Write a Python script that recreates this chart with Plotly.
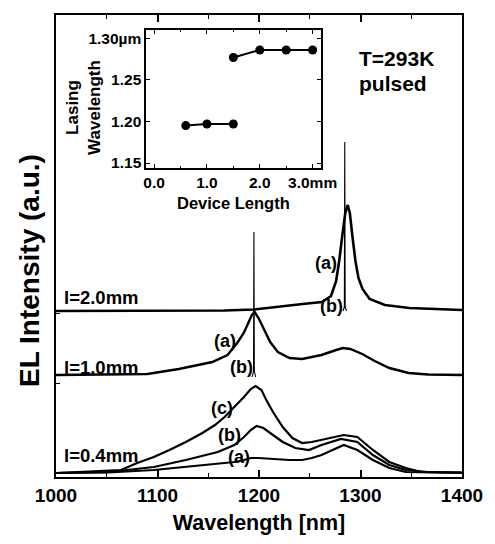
import plotly.graph_objects as go

# ---------------- data ----------------
# Electroluminescence spectra (a.u.), stacked per device length
wl_20a = [1000, 1090, 1166, 1195, 1223, 1243, 1262, 1271, 1276, 1279, 1282, 1285,
          1287.4, 1289.5, 1292, 1295, 1298, 1302, 1309, 1324, 1348, 1367, 1400]
el_20a = [0, 0, 0.005, 0.015, 0.05, 0.07, 0.09, 0.15, 0.30, 0.50, 0.75, 0.98,
          1.06, 0.98, 0.75, 0.50, 0.33, 0.22, 0.12, 0.06, 0.03, 0.02, 0.01]
wl_20b = [1282.8, 1284.1, 1284.5, 1284.9, 1286.2]
el_20b = [0, 0.04, 1.69, 0.04, 0]

wl_10a = [1000, 1042, 1090, 1121, 1154, 1169, 1178.5, 1185, 1190, 1193, 1195.7,
          1199.5, 1204.3, 1211, 1218.6, 1230, 1242.5, 1261.6, 1276, 1282.6, 1290,
          1301.7, 1314, 1328.4, 1347.5, 1366.6, 1400]
el_10a = [0, 0.005, 0.01, 0.06, 0.13, 0.20, 0.32, 0.42, 0.53, 0.60, 0.63,
          0.57, 0.47, 0.33, 0.23, 0.17, 0.16, 0.20, 0.25, 0.27, 0.26,
          0.21, 0.14, 0.07, 0.02, 0.005, 0]
wl_10b = [1193.3, 1194.6, 1195, 1195.4, 1196.7]
el_10b = [-0.02, 0.04, 1.43, 0.04, -0.02]

wl_04c = [1000, 1042, 1064, 1080, 1096.4, 1111.7, 1127.9, 1144.2, 1156.6, 1166.1,
          1175.7, 1185.2, 1191.9, 1196.7, 1202.4, 1207.2, 1213.8, 1223.4, 1232.9,
          1242.5, 1252, 1266.3, 1283.5, 1296.9, 1312.2, 1328.4, 1344.6, 1360, 1400]
el_04c = [0, 0.015, 0.03, 0.10, 0.16, 0.23, 0.31, 0.40, 0.48, 0.56,
          0.66, 0.76, 0.84, 0.87, 0.83, 0.73, 0.61, 0.46, 0.35,
          0.30, 0.31, 0.34, 0.38, 0.36, 0.23, 0.11, 0.05, 0.01, 0.005]
wl_04b = [1000, 1051.5, 1096.4, 1127.9, 1159.4, 1175.7, 1185.2, 1191.9, 1197.6,
          1204.3, 1213.8, 1223.4, 1235.8, 1249.2, 1261.6, 1280.7, 1296.9, 1312.2,
          1328.4, 1344.6, 1366.6, 1400]
el_04b = [0, 0.01, 0.06, 0.13, 0.21, 0.28, 0.36, 0.43, 0.47,
          0.45, 0.38, 0.31, 0.25, 0.23, 0.28, 0.34, 0.31, 0.18,
          0.08, 0.03, 0.01, 0.005]
wl_04a = [1000, 1051.5, 1096.4, 1127.9, 1159.4, 1175.7, 1185.2, 1191.9, 1199.5,
          1213.8, 1230, 1242.5, 1252, 1261.6, 1283.5, 1296.9, 1312.2, 1328.4,
          1344.6, 1400]
el_04a = [0, 0.005, 0.03, 0.06, 0.09, 0.11, 0.13, 0.15, 0.15,
          0.14, 0.13, 0.13, 0.15, 0.18, 0.28, 0.23, 0.13, 0.05,
          0.01, 0]

# vertical offsets of the stacked spectra
offset_04 = 0.04
offset_10 = 1.02
offset_20 = 1.66

# inset: lasing wavelength vs. device length
len_short = [0.6, 1.0, 1.5]
lam_short = [1.195, 1.197, 1.197]
len_long = [1.5, 2.0, 2.5, 3.0]
lam_long = [1.277, 1.286, 1.286, 1.286]

x_ticks = [1000, 1100, 1200, 1300, 1400]
inset_x_vals = [0, 1, 2, 3]
inset_x_text = ["0.0", "1.0", "2.0", "3.0mm"]
inset_y_vals = [1.15, 1.20, 1.25, 1.30]
inset_y_text = ["1.15", "1.20", "1.25", "1.30µm"]

# ---------------- figure ----------------
FONT = "Liberation Sans, Arial, Helvetica, sans-serif"
BLACK = "#000000"

fig = go.Figure()


def add_spectrum(wl, el, offset, width):
    fig.add_trace(go.Scatter(
        x=wl, y=[v + offset for v in el], mode="lines",
        line=dict(color=BLACK, width=width), showlegend=False,
        hoverinfo="skip"))


add_spectrum(wl_20a, el_20a, offset_20, 2.6)
add_spectrum(wl_20b, el_20b, offset_20, 1.1)
add_spectrum(wl_10a, el_10a, offset_10, 2.4)
add_spectrum(wl_10b, el_10b, offset_10, 1.1)
add_spectrum(wl_04c, el_04c, offset_04, 2.2)
add_spectrum(wl_04b, el_04b, offset_04, 2.2)
add_spectrum(wl_04a, el_04a, offset_04, 2.2)

for lx, ly in ((len_short, lam_short), (len_long, lam_long)):
    fig.add_trace(go.Scatter(
        x=lx, y=ly, xaxis="x2", yaxis="y2", mode="lines+markers",
        line=dict(color=BLACK, width=2),
        marker=dict(color=BLACK, size=9),
        showlegend=False, hoverinfo="skip"))


# text labels on the spectra
def label(text, x, y, size=18, anchor="center"):
    fig.add_annotation(x=x, y=y, xref="x", yref="y", text=text, showarrow=False,
                       xanchor=anchor, yanchor="middle",
                       font=dict(family=FONT, size=size, color=BLACK))


label("<b>l=2.0mm</b>", 1005.7, 1.80, 18.5, "left")
label("<b>l=1.0mm</b>", 1005.7, 1.10, 18.5, "left")
label("<b>l=0.4mm</b>", 1005.7, 0.22, 18.5, "left")
label("<b>(a)</b>", 1266.3, 2.14)
label("<b>(b)</b>", 1271.1, 1.71)
label("<b>(a)</b>", 1166.1, 1.36)
label("<b>(b)</b>", 1182.3, 1.10)
label("<b>(c)</b>", 1163.2, 0.69)
label("<b>(b)</b>", 1170.9, 0.42)
label("<b>(a)</b>", 1180.4, 0.20)
label("<b>T=293K</b>", 1296.9, 4.19, 21, "left")
label("<b>pulsed</b>", 1296.9, 3.94, 21, "left")


def paper_text(text, x, y, size, angle=0):
    fig.add_annotation(x=x, y=y, xref="paper", yref="paper", text=text,
                       textangle=angle, showarrow=False, xanchor="center",
                       yanchor="middle",
                       font=dict(family=FONT, size=size, color=BLACK))


paper_text("<b>EL Intensity (a.u.)</b>", -0.064, 0.446, 28, -90)
paper_text("<b>Device Length</b>", 0.4368, 0.593, 16.5)
paper_text("<b>Lasing<br>Wavelength</b>", 0.069, 0.799, 17, -90)

fig.update_layout(
    width=495, height=544,
    margin=dict(l=56, r=20, t=15, b=67),
    paper_bgcolor="white", plot_bgcolor="white",
    font=dict(family=FONT, color=BLACK),
    xaxis=dict(
        range=[1000, 1400], tickvals=x_ticks,
        ticktext=[f"<b>{t}</b>" for t in x_ticks],
        ticks="inside", ticklen=7,
        tickwidth=1.5, tickcolor=BLACK, showline=True, linewidth=2,
        linecolor=BLACK, mirror="ticks", showgrid=False, zeroline=False,
        minor=dict(dtick=50, ticks="inside", ticklen=4, tickwidth=1.2,
                   tickcolor=BLACK, showgrid=False),
        tickfont=dict(family=FONT, size=19, color=BLACK),
        title=dict(text="<b>Wavelength [nm]</b>", standoff=10,
                   font=dict(family=FONT, size=21.5, color=BLACK)),
    ),
    yaxis=dict(
        range=[0, 4.62], tickvals=[0.94, 1.64], ticks="inside", ticklen=4,
        tickwidth=1.2, tickcolor=BLACK, showticklabels=False,
        showline=True, linewidth=2, linecolor=BLACK, mirror=True,
        showgrid=False, zeroline=False,
    ),
    xaxis2=dict(
        domain=[0.222, 0.6516], anchor="y2", range=[-0.15, 3.15],
        tickvals=inset_x_vals, ticktext=[f"<b>{t}</b>" for t in inset_x_text],
        ticks="inside", ticklen=4, tickwidth=1.2, tickcolor=BLACK,
        showline=True, linewidth=1.5, linecolor=BLACK, mirror="ticks",
        showgrid=False, zeroline=False,
        minor=dict(dtick=0.5, ticks="inside", ticklen=2, tickwidth=1,
                   tickcolor=BLACK, showgrid=False),
        tickfont=dict(family=FONT, size=15.5, color=BLACK),
    ),
    yaxis2=dict(
        domain=[0.6688, 0.9675], anchor="x2", range=[1.144, 1.31],
        tickvals=inset_y_vals, ticktext=[f"<b>{t}</b>" for t in inset_y_text],
        ticks="inside", ticklen=4, tickwidth=1.2, tickcolor=BLACK,
        showline=True, linewidth=1.5, linecolor=BLACK, mirror="ticks",
        showgrid=False, zeroline=False,
        tickfont=dict(family=FONT, size=15.5, color=BLACK),
    ),
)

fig.write_html("out.html")
